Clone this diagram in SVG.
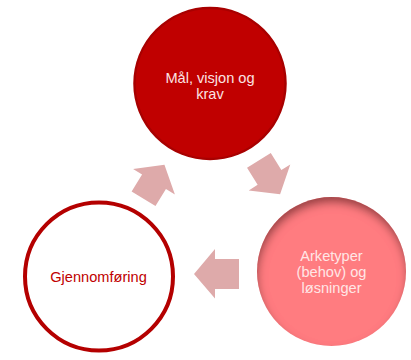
<svg xmlns="http://www.w3.org/2000/svg" width="411" height="360" viewBox="0 0 411 360">
  <style>
    .lbl { font-family: "Liberation Sans", Arial, sans-serif; font-size: 14.6px; text-anchor: middle; }
    .arrow { fill: #DEAAAA; stroke: none; }
  </style>
  <defs>
    <filter id="inset" x="-10%" y="-10%" width="120%" height="120%">
      <feOffset in="SourceAlpha" dx="1" dy="6" result="o"/>
      <feGaussianBlur in="o" stdDeviation="4" result="b"/>
      <feComposite in="SourceAlpha" in2="b" operator="out" result="inv"/>
      <feFlood flood-color="#5a1818" flood-opacity="0.75"/>
      <feComposite in2="inv" operator="in" result="shadow"/>
      <feMerge><feMergeNode in="SourceGraphic"/><feMergeNode in="shadow"/></feMerge>
    </filter>
    <polygon id="arr" points="-20,-14 0,-14 0,-24.5 20,0 0,24.5 0,14 -20,14"/>
  </defs>
  <rect width="411" height="360" fill="#ffffff"/>

  <g id="connectors">
    <use href="#arr" class="arrow" transform="translate(154,181.7) rotate(-58.5)"/>
    <use href="#arr" class="arrow" transform="translate(269.5,177.4) rotate(58)"/>
    <polygon class="arrow" points="239,259 215,259 215,249 194,274 215,298.5 215,289 239,289"/>
  </g>

  <g id="node-mal">
    <circle cx="210" cy="83.5" r="75.5" fill="#C00000" stroke="#A80000" stroke-width="2.5"/>
    <text class="lbl" x="210" y="82.5" fill="#FBE3E3">Mål, visjon og</text>
    <text class="lbl" x="210" y="98.5" fill="#FBE3E3">krav</text>
  </g>

  <g id="node-arketyper">
    <circle cx="331.5" cy="271.5" r="74.5" fill="#FF7C80" filter="url(#inset)"/>
    <text class="lbl" x="331.5" y="260.5" fill="#FFE6E6">Arketyper</text>
    <text class="lbl" x="331.5" y="276.5" fill="#FFE6E6">(behov) og</text>
    <text class="lbl" x="331.5" y="292.5" fill="#FFE6E6">løsninger</text>
  </g>

  <g id="node-gjennomforing">
    <circle cx="99" cy="276.5" r="74" fill="#ffffff" stroke="#B40000" stroke-width="4"/>
    <text class="lbl" x="98.5" y="281.5" fill="#C00000">Gjennomføring</text>
  </g>
</svg>
